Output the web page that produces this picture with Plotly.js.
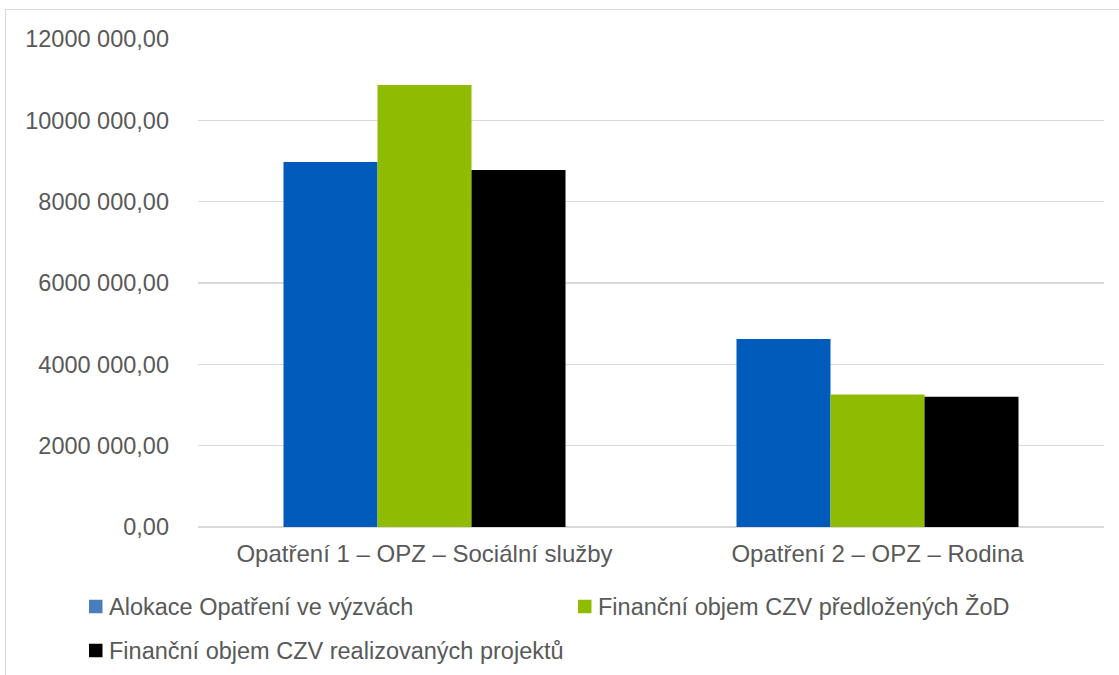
<!DOCTYPE html>
<html>
<head>
<meta charset="utf-8">
<script src="https://cdn.plot.ly/plotly-3.0.1.min.js"></script>
<style>
  html, body { margin: 0; padding: 0; background: #fff; }
  #wrap { position: relative; width: 1119px; height: 675px; overflow: hidden; }
  #chart { width: 1119px; height: 675px; }
  #frame { position: absolute; left: 5px; top: 9px; width: 1200px; height: 800px;
           border-left: 1.5px solid #d9d9d9; border-top: 1.5px solid #d9d9d9; pointer-events: none; }
</style>
</head>
<body>
<div id="wrap">
  <div id="chart"></div>
  <div id="frame"></div>
</div>
<script>
// ---- data ----
const categories = ["Opatření 1 – OPZ – Sociální služby", "Opatření 2 – OPZ – Rodina"];
const seriesNames = [
  "Alokace Opatření ve výzvách",
  "Finanční objem CZV předložených ŽoD",
  "Finanční objem CZV realizovaných projektů"
];
const alokace = [8975000, 4620000];
const predlozene = [10870000, 3260000];
const realizovane = [8780000, 3200000];
const tickValues = [0, 2000000, 4000000, 6000000, 8000000, 10000000, 12000000];
const tickLabels = ["0,00", "2000 000,00", "4000 000,00", "6000 000,00", "8000 000,00", "10000 000,00", "12000 000,00"];

// ---- styling ----
const barColors = ["#005BBB", "#8FBC00", "#000000"];
const legendColors = ["#4A7EBB", "#8FBC00", "#000000"];
const textColor = "#595959";
const fontFamily = "Liberation Sans, Arial, sans-serif";
const fs = 23.5;

const W = 1119, H = 675;
const L = 198, R = 1104, T = 39, B = 527;
const px = x => (x - L) / (R - L);
const py = y => (B - y) / (B - T);

const seriesValues = [alokace, predlozene, realizovane];
const traces = seriesValues.map((vals, i) => ({
  type: "bar",
  name: seriesNames[i],
  x: categories,
  y: vals,
  marker: { color: barColors[i], line: { width: 0 } },
  showlegend: false,
  hoverinfo: "x+y+name"
}));

// manual legend (Excel-like, tight spacing)
const legendItems = [
  { sx: 89, cy: 606.5 },
  { sx: 578, cy: 606.5 },
  { sx: 89, cy: 650.5 }
];
const shapes = [];
const annotations = [];
legendItems.forEach((it, i) => {
  shapes.push({
    type: "rect", xref: "paper", yref: "paper",
    x0: px(it.sx), x1: px(it.sx + 13.5),
    y0: py(it.cy - 6.75), y1: py(it.cy + 6.75),
    fillcolor: legendColors[i], line: { width: 0 }
  });
  annotations.push({
    xref: "paper", yref: "paper",
    x: px(it.sx + 18), y: py(it.cy),
    xanchor: "left", yanchor: "middle",
    text: seriesNames[i], showarrow: false,
    font: { family: fontFamily, size: fs, color: textColor }
  });
});

const layout = {
  width: W, height: H,
  margin: { l: L, r: W - R, t: T, b: H - B, pad: 0 },
  paper_bgcolor: "#ffffff",
  plot_bgcolor: "#ffffff",
  barmode: "group",
  bargap: 0.3775,
  bargroupgap: 0,
  font: { family: fontFamily, size: fs, color: textColor },
  xaxis: {
    type: "category",
    showgrid: false, showline: false, zeroline: false,
    ticks: "", ticklabelstandoff: 10,
    tickfont: { family: fontFamily, size: 24, color: textColor }
  },
  yaxis: {
    range: [0, 12000000],
    tickmode: "array", tickvals: tickValues, ticktext: tickLabels,
    showgrid: true, gridcolor: "#d9d9d9", gridwidth: 1.5,
    zeroline: true, zerolinecolor: "#d9d9d9", zerolinewidth: 1.5,
    showline: false, ticks: "", ticklabelstandoff: 28,
    tickfont: { family: fontFamily, size: fs, color: textColor }
  },
  shapes: shapes,
  annotations: annotations,
  showlegend: false
};

Plotly.newPlot("chart", traces, layout, { displayModeBar: false, staticPlot: true });
</script>
</body>
</html>
